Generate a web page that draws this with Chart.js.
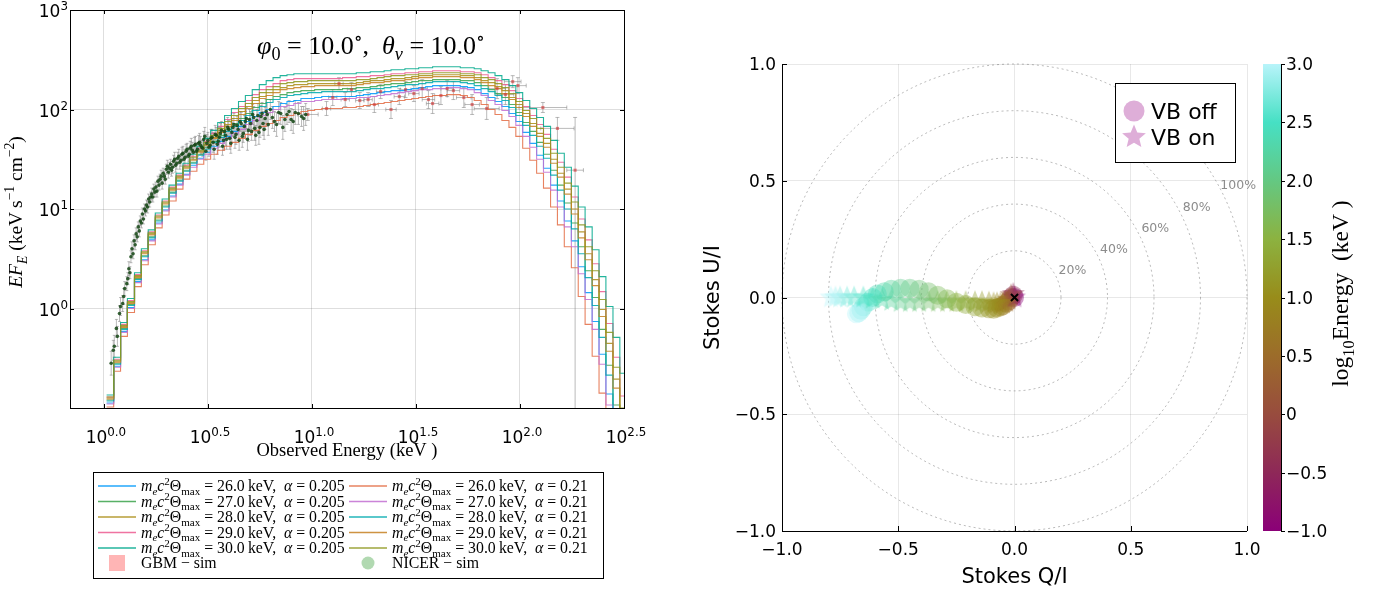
<!DOCTYPE html>
<html>
<head>
<meta charset="utf-8">
<script src="https://cdn.jsdelivr.net/npm/chart.js@4.4.1/dist/chart.umd.min.js"></script>
<style>
html, body { margin: 0; padding: 0; background: #fff; width: 1374px; height: 591px; overflow: hidden; }
#left { position: absolute; left: 0; top: 0; width: 680px; height: 591px; }
#right { position: absolute; left: 680px; top: 0; width: 694px; height: 591px; }
</style>
</head>
<body>
<div id="left"><canvas id="spec"></canvas></div>
<div id="right"><canvas id="pol"></canvas></div>
<script>
// ---- spectrum (left) : log10 values ----
const logEnergyEdges = [
  0.013, 0.047, 0.080, 0.113, 0.147, 0.180, 0.213, 0.247, 0.280, 0.313,
  0.347, 0.380, 0.413, 0.447, 0.480, 0.513, 0.547, 0.580, 0.613, 0.647,
  0.680, 0.713, 0.747, 0.780, 0.813, 0.847, 0.880, 0.913, 0.947, 0.980,
  1.013, 1.047, 1.080, 1.113, 1.147, 1.180, 1.213, 1.247, 1.280, 1.313,
  1.347, 1.380, 1.413, 1.447, 1.480, 1.513, 1.547, 1.580, 1.613, 1.647,
  1.680, 1.713, 1.747, 1.780, 1.813, 1.847, 1.880, 1.913, 1.947, 1.980,
  2.013, 2.047, 2.080, 2.113, 2.147, 2.180, 2.213, 2.247, 2.280, 2.313,
  2.347, 2.380, 2.413, 2.447, 2.480, 2.513
];

const flux_26_0205 = [
  -0.95,-0.58,-0.23,0.01,0.27,0.49,0.69,0.86,0.99,1.13,
  1.25,1.35,1.44,1.51,1.57,1.63,1.68,1.73,1.78,1.83,
  1.88,1.93,1.97,2.00,2.03,2.06,2.08,2.09,2.11,2.11,
  2.12,2.13,2.13,2.13,2.13,2.13,2.14,2.15,2.16,2.17,
  2.18,2.19,2.19,2.20,2.21,2.22,2.23,2.24,2.24,2.24,
  2.24,2.23,2.22,2.20,2.16,2.12,2.08,2.03,1.96,1.88,
  1.77,1.66,1.54,1.41,1.24,1.08,0.88,0.68,0.42,0.16,
  -0.13,-0.46,-0.86,-1.30,-1.82
];
const flux_26_021 = [
  -0.99,-0.63,-0.28,-0.04,0.22,0.44,0.64,0.81,0.94,1.08,
  1.20,1.30,1.38,1.45,1.50,1.55,1.59,1.63,1.67,1.71,
  1.75,1.79,1.83,1.86,1.89,1.92,1.94,1.96,1.98,1.99,
  2.00,2.01,2.01,2.01,2.02,2.02,2.03,2.04,2.05,2.06,
  2.07,2.08,2.09,2.10,2.11,2.12,2.13,2.14,2.14,2.15,
  2.15,2.14,2.12,2.09,2.05,2.00,1.95,1.89,1.82,1.73,
  1.61,1.49,1.36,1.21,1.02,0.84,0.62,0.41,0.12,-0.16,
  -0.48,-0.85,-1.30,-1.80,-2.40
];
const flux_27_0205 = [
  -0.92,-0.55,-0.20,0.04,0.30,0.53,0.72,0.89,1.03,1.17,
  1.29,1.39,1.47,1.55,1.62,1.68,1.74,1.80,1.86,1.91,
  1.96,2.02,2.06,2.10,2.13,2.15,2.17,2.18,2.19,2.19,
  2.20,2.20,2.20,2.20,2.21,2.21,2.22,2.22,2.23,2.24,
  2.25,2.26,2.26,2.27,2.28,2.29,2.29,2.30,2.30,2.30,
  2.30,2.29,2.29,2.27,2.24,2.20,2.16,2.12,2.05,1.97,
  1.87,1.78,1.67,1.55,1.39,1.24,1.06,0.86,0.62,0.38,
  0.11,-0.21,-0.57,-0.97,-1.44
];
const flux_27_021 = [
  -0.96,-0.59,-0.24,0.00,0.26,0.48,0.68,0.85,0.98,1.12,
  1.24,1.34,1.42,1.50,1.55,1.61,1.66,1.71,1.76,1.80,
  1.85,1.89,1.94,1.97,2.00,2.03,2.04,2.06,2.08,2.08,
  2.09,2.10,2.10,2.10,2.11,2.11,2.12,2.12,2.13,2.14,
  2.15,2.16,2.17,2.18,2.19,2.20,2.20,2.21,2.21,2.22,
  2.22,2.21,2.20,2.17,2.14,2.09,2.05,1.99,1.93,1.84,
  1.73,1.62,1.50,1.37,1.19,1.02,0.82,0.62,0.35,0.09,
  -0.21,-0.56,-0.97,-1.42,-1.96
];
const flux_28_0205 = [
  -0.90,-0.53,-0.18,0.06,0.32,0.56,0.75,0.92,1.06,1.20,
  1.32,1.42,1.50,1.58,1.65,1.72,1.79,1.85,1.91,1.98,
  2.03,2.09,2.13,2.17,2.20,2.22,2.24,2.25,2.25,2.26,
  2.26,2.26,2.26,2.26,2.26,2.26,2.27,2.28,2.29,2.29,
  2.30,2.31,2.31,2.32,2.33,2.34,2.34,2.35,2.35,2.35,
  2.35,2.34,2.34,2.32,2.29,2.27,2.23,2.19,2.12,2.05,
  1.96,1.86,1.76,1.66,1.50,1.36,1.20,1.00,0.77,0.55,
  0.29,-0.01,-0.35,-0.71,-1.14
];
const flux_28_021 = [
  -0.93,-0.56,-0.21,0.03,0.29,0.52,0.71,0.88,1.02,1.16,
  1.28,1.38,1.46,1.54,1.60,1.67,1.72,1.78,1.83,1.89,
  1.94,1.99,2.03,2.07,2.10,2.12,2.14,2.15,2.16,2.17,
  2.17,2.18,2.18,2.18,2.18,2.18,2.19,2.20,2.21,2.21,
  2.22,2.23,2.24,2.25,2.25,2.26,2.27,2.28,2.28,2.28,
  2.28,2.27,2.26,2.24,2.21,2.18,2.14,2.09,2.02,1.94,
  1.84,1.74,1.63,1.51,1.34,1.19,1.00,0.80,0.55,0.31,
  0.03,-0.29,-0.67,-1.08,-1.56
];
const flux_29_0205 = [
  -0.89,-0.51,-0.16,0.08,0.34,0.58,0.77,0.94,1.08,1.22,
  1.34,1.44,1.53,1.61,1.68,1.76,1.83,1.90,1.97,2.03,
  2.09,2.15,2.20,2.23,2.26,2.29,2.30,2.31,2.31,2.31,
  2.31,2.31,2.31,2.31,2.32,2.32,2.33,2.33,2.34,2.34,
  2.35,2.36,2.36,2.37,2.37,2.38,2.38,2.39,2.39,2.39,
  2.39,2.38,2.38,2.37,2.35,2.32,2.29,2.25,2.19,2.11,
  2.03,1.94,1.85,1.75,1.60,1.47,1.32,1.12,0.90,0.69,
  0.45,0.17,-0.15,-0.49,-0.88
];
const flux_29_021 = [
  -0.91,-0.54,-0.19,0.05,0.31,0.55,0.74,0.91,1.05,1.19,
  1.31,1.41,1.49,1.57,1.64,1.71,1.77,1.83,1.89,1.95,
  2.01,2.06,2.11,2.14,2.17,2.20,2.21,2.22,2.23,2.23,
  2.24,2.24,2.24,2.24,2.24,2.24,2.25,2.26,2.27,2.27,
  2.28,2.29,2.29,2.30,2.31,2.32,2.32,2.33,2.33,2.33,
  2.33,2.32,2.32,2.30,2.27,2.24,2.21,2.16,2.10,2.02,
  1.93,1.83,1.73,1.62,1.46,1.32,1.15,0.95,0.71,0.49,
  0.23,-0.08,-0.43,-0.80,-1.24
];
const flux_30_0205 = [
  -0.87,-0.49,-0.14,0.10,0.36,0.60,0.79,0.96,1.10,1.24,
  1.36,1.46,1.55,1.63,1.71,1.79,1.87,1.94,2.01,2.08,
  2.14,2.20,2.25,2.29,2.32,2.34,2.35,2.36,2.36,2.36,
  2.36,2.36,2.36,2.36,2.36,2.36,2.37,2.37,2.38,2.38,
  2.39,2.40,2.40,2.41,2.41,2.42,2.42,2.43,2.43,2.43,
  2.43,2.42,2.42,2.41,2.39,2.37,2.34,2.30,2.24,2.17,
  2.09,2.01,1.92,1.83,1.69,1.56,1.42,1.23,1.02,0.82,
  0.59,0.32,0.02,-0.29,-0.65
];
const flux_30_021 = [
  -0.89,-0.52,-0.17,0.07,0.33,0.57,0.76,0.93,1.07,1.21,
  1.33,1.43,1.52,1.59,1.67,1.74,1.81,1.88,1.94,2.01,
  2.06,2.12,2.17,2.20,2.23,2.26,2.27,2.28,2.28,2.29,
  2.29,2.29,2.29,2.29,2.29,2.29,2.30,2.30,2.31,2.32,
  2.33,2.34,2.34,2.35,2.35,2.36,2.36,2.37,2.37,2.37,
  2.37,2.36,2.36,2.35,2.32,2.30,2.26,2.22,2.16,2.08,
  1.99,1.91,1.81,1.71,1.56,1.42,1.26,1.07,0.84,0.62,
  0.38,0.09,-0.24,-0.59,-1.00
];

const seriesTemp = [26, 26, 27, 27, 28, 28, 29, 29, 30, 30];
const seriesAlpha = ["0.205", "0.21", "0.205", "0.21", "0.205", "0.21", "0.205", "0.21", "0.205", "0.21"];
const seriesFlux = [flux_26_0205, flux_26_021, flux_27_0205, flux_27_021, flux_28_0205,
                    flux_28_021, flux_29_0205, flux_29_021, flux_30_0205, flux_30_021];
const seriesColors = ["#009AFA", "#E36F47", "#3EA44E", "#C371D2", "#AC8E18",
                      "#00AAAE", "#ED5E93", "#C68225", "#00A98D", "#8E971E"];

// NICER - sim points (log10 E, log10 EF, half error in dex)
const nicerLogE = [
  0.035,0.045,0.05,0.06,0.065,0.075,0.08,0.09,0.095,
  0.10,0.11,0.115,0.12,0.125,0.13,0.135,0.14,0.145,
  0.15,0.155,0.16,0.165,0.17,0.175,0.18,0.185,0.19,0.195,
  0.20,0.205,0.21,0.215,0.22,0.23,0.235,0.24,
  0.25,0.255,0.26,0.27,0.28,0.285,0.29,
  0.30,0.31,0.32,0.33,0.34,0.35,0.36,0.37,0.38,0.39,
  0.40,0.41,0.42,0.43,0.44,0.45,0.46,0.47,0.48,0.49,
  0.50,0.51,0.52,0.53,0.54,0.55,0.56,0.57,0.58,0.59,
  0.60,0.61,0.62,0.63,0.64,0.65,0.66,0.67,0.68,0.69,
  0.70,0.71,0.72,0.73,0.74,0.75,0.76,0.77,0.78,0.79,
  0.80,
  0.82,0.84,0.86,0.88,0.90,0.92,0.95,0.97,
  0.225,0.245,0.265,0.275,0.295,0.305,0.315,0.325,0.335,0.345,
  0.355,0.365,0.375,0.385,0.395,0.405,0.415,0.425,0.435,0.445,
  0.455,0.465,0.475,0.485,0.495,0.505,0.515,0.525,0.535,0.545,
  0.555,0.565,0.575,0.585,0.595,0.605,0.615,0.625,0.635,0.645,
  0.655,0.665,0.675,0.685,0.695,0.705,0.715,0.725,0.735,0.745,
  0.755,0.765,0.775,0.785,0.81,0.83,0.85,0.87,0.89,0.91,
  0.935,0.96
];
const nicerLogF = [
  -0.55,-0.42,-0.38,-0.20,-0.28,-0.05,0.02,0.05,0.12,
  0.20,0.25,0.30,0.40,0.36,0.52,0.60,0.55,0.68,
  0.64,0.75,0.72,0.82,0.78,0.88,0.86,0.95,0.90,1.00,
  0.98,1.04,1.02,1.10,1.07,1.15,1.12,1.20,
  1.22,1.18,1.28,1.30,1.26,1.36,1.33,
  1.40,1.37,1.45,1.42,1.50,1.46,1.53,1.49,1.56,1.52,
  1.60,1.55,1.63,1.57,1.65,1.60,1.67,1.62,1.70,1.58,
  1.69,1.64,1.72,1.60,1.74,1.68,1.76,1.63,1.78,1.70,
  1.80,1.66,1.82,1.72,1.84,1.69,1.86,1.76,1.88,1.70,
  1.90,1.78,1.92,1.74,1.94,1.82,1.96,1.80,1.98,1.85,
  2.00,
  1.88,1.97,1.82,1.95,1.90,1.97,1.93,1.95,
  1.12,1.17,1.24,1.33,1.30,1.43,1.41,1.39,1.48,1.44,
  1.51,1.47,1.55,1.50,1.58,1.53,1.61,1.59,1.64,1.58,
  1.66,1.64,1.61,1.73,1.66,1.62,1.71,1.67,1.75,1.65,
  1.72,1.79,1.69,1.74,1.82,1.71,1.77,1.85,1.75,1.80,
  1.88,1.73,1.83,1.91,1.79,1.86,1.95,1.81,1.89,1.77,
  1.93,1.86,1.91,1.95,1.92,1.85,1.96,1.90,1.98,1.88,
  1.96,1.91
];
const nicerErr = [
  0.12,0.10,0.11,0.09,0.10,0.08,0.09,0.08,0.08,
  0.07,0.07,0.06,0.07,0.06,0.06,0.07,0.05,0.06,
  0.05,0.06,0.05,0.05,0.06,0.05,0.05,0.06,0.05,0.05,
  0.05,0.05,0.06,0.05,0.05,0.06,0.05,0.05,
  0.05,0.06,0.05,0.05,0.06,0.05,0.05,
  0.05,0.06,0.05,0.06,0.07,0.06,0.07,0.06,0.07,0.08,
  0.06,0.07,0.08,0.07,0.08,0.07,0.09,0.07,0.08,0.09,
  0.08,0.09,0.08,0.10,0.08,0.09,0.10,0.09,0.08,0.10,
  0.09,0.10,0.09,0.11,0.09,0.10,0.11,0.09,0.10,0.11,
  0.10,0.09,0.11,0.10,0.12,0.10,0.11,0.10,0.12,0.11,
  0.10,
  0.10,0.11,0.12,0.10,0.11,0.12,0.10,0.11,
  0.05,0.05,0.05,0.06,0.05,0.06,0.06,0.06,0.06,0.07,
  0.06,0.07,0.07,0.07,0.07,0.08,0.07,0.08,0.08,0.08,
  0.08,0.09,0.08,0.09,0.09,0.09,0.09,0.10,0.09,0.10,
  0.10,0.09,0.10,0.10,0.10,0.11,0.10,0.11,0.10,0.11,
  0.10,0.11,0.11,0.11,0.11,0.12,0.10,0.12,0.11,0.12,
  0.11,0.12,0.11,0.12,0.11,0.12,0.11,0.12,0.11,0.12,
  0.11,0.12
];

// GBM - sim points
const gbmLogE = [0.98,1.07,1.10,1.13,1.16,1.19,1.23,1.27,1.30,1.33,1.38,1.42,1.45,1.49,1.53,
                 1.56,1.58,1.62,1.65,1.68,1.73,1.77,1.84,1.89,1.93,1.965,1.99,2.11,2.18,2.265];
const gbmLogF = [1.95,2.01,2.12,2.26,2.10,2.20,2.09,2.10,2.05,2.18,2.00,2.13,2.20,2.16,2.21,
                 2.10,2.06,2.14,2.21,2.19,2.12,2.05,2.01,2.21,2.15,2.28,2.24,2.02,1.81,1.39];
const gbmErrLo = [0.06,0.07,0.08,0.06,0.07,0.07,0.08,0.07,0.08,0.07,0.09,0.08,0.08,0.08,0.09,
                  0.09,0.10,0.09,0.08,0.09,0.10,0.10,0.11,0.10,0.10,0.06,0.08,0.05,0.12,2.60];
const gbmErrHi = [0.06,0.07,0.08,0.06,0.07,0.07,0.08,0.07,0.08,0.07,0.09,0.08,0.08,0.08,0.09,
                  0.09,0.10,0.09,0.08,0.09,0.10,0.10,0.11,0.10,0.10,0.06,0.08,0.05,0.11,0.53];
const gbmHalfWidth = [0.05,0.02,0.02,0.02,0.02,0.02,0.02,0.02,0.02,0.02,0.025,0.025,0.025,0.025,0.025,
                      0.03,0.03,0.03,0.03,0.03,0.035,0.035,0.06,0.04,0.04,0.04,0.04,0.115,0.08,0.04];

const specXTicks = [0, 0.5, 1, 1.5, 2, 2.5];
const specXTickLabels = ["0.0", "0.5", "1.0", "1.5", "2.0", "2.5"];
const specYTicks = [0, 1, 2, 3];
const specYTickLabels = ["0", "1", "2", "3"];

// ---- polarisation (right) ----
const polLogE = [
  -1.0,-0.5,0.0,0.3,0.5,0.7,0.8,0.9,
  1.0,1.1,1.2,1.3,1.4,1.5,1.6,1.7,1.8,1.9,
  2.0,2.1,2.2,2.3,2.4,2.5,2.6,2.7,2.8,2.9,
  3.0
];
const offQ = [
  0.00,-0.005,-0.015,-0.025,-0.035,-0.05,-0.06,-0.075,
  -0.09,-0.11,-0.14,-0.17,-0.21,-0.25,-0.29,-0.33,-0.37,-0.41,
  -0.45,-0.49,-0.53,-0.56,-0.59,-0.61,-0.63,-0.65,-0.66,-0.67,
  -0.68
];
const offU = [
  0.00,0.01,0.0,-0.015,-0.025,-0.035,-0.04,-0.045,
  -0.05,-0.048,-0.045,-0.04,-0.03,-0.02,-0.005,0.01,0.025,0.035,
  0.04,0.04,0.035,0.025,0.015,0.0,-0.02,-0.04,-0.055,-0.065,
  -0.07
];
const onQ = [
  0.00,-0.005,-0.015,-0.025,-0.035,-0.05,-0.06,-0.075,
  -0.09,-0.11,-0.14,-0.17,-0.21,-0.25,-0.29,-0.33,-0.37,-0.41,
  -0.45,-0.49,-0.53,-0.57,-0.61,-0.65,-0.69,-0.72,-0.75,-0.77,
  -0.79
];
const onU = [
  0.00,0.015,0.01,-0.01,-0.02,-0.025,-0.025,-0.025,
  -0.025,-0.022,-0.02,-0.02,-0.02,-0.02,-0.02,-0.02,-0.02,-0.02,
  -0.02,-0.02,-0.015,-0.01,-0.005,0.0,0.0,0.0,0.0,0.0,
  0.0
];
const polTicks = [-1, -0.5, 0, 0.5, 1];
const polTickLabels = ["\u22121.0", "\u22120.5", "0.0", "0.5", "1.0"];
const ringRadii = [0.2, 0.4, 0.6, 0.8, 1.0];
const ringLabels = ["20%", "40%", "60%", "80%", "100%"];
const cbarTicks = [3.0, 2.5, 2.0, 1.5, 1.0, 0.5, 0, -0.5, -1.0];
const cbarTickLabels = ["3.0", "2.5", "2.0", "1.5", "1.0", "0.5", "0", "\u22120.5", "\u22121.0"];

const cmapStops = [
  [-1.0, [139, 0, 120]], [-0.5, [142, 40, 88]], [0.0, [152, 76, 62]], [0.5, [156, 108, 42]],
  [1.0, [152, 140, 26]], [1.5, [140, 178, 64]], [2.0, [100, 200, 130]], [2.5, [70, 224, 196]],
  [3.0, [184, 244, 250]]
];

const SANS = '"DejaVu Sans", sans-serif';
const SERIF = '"Liberation Serif", "DejaVu Serif", serif';

function cmap(t, a) {
  if (t <= cmapStops[0][0]) t = cmapStops[0][0];
  for (let i = 1; i < cmapStops.length; i++) {
    const [t1, c1] = cmapStops[i];
    const [t0, c0] = cmapStops[i - 1];
    if (t <= t1) {
      const f = (t - t0) / (t1 - t0);
      const c = c0.map((v, j) => Math.round(v + f * (c1[j] - v)));
      return `rgba(${c[0]},${c[1]},${c[2]},${a})`;
    }
  }
  const c = cmapStops[cmapStops.length - 1][1];
  return `rgba(${c[0]},${c[1]},${c[2]},${a})`;
}

// rich text: segments [text, flags]; flags: i italic, b subscript, p superscript
function drawRich(ctx, segs, x, y, size, family, align) {
  const parts = segs.map(([t, f = ""]) => {
    const small = f.includes("b") || f.includes("p");
    const fs = small ? size * 0.7 : size;
    const font = (f.includes("i") ? "italic " : "") + fs + "px " + family;
    ctx.font = font;
    const dy = f.includes("b") ? size * 0.24 : f.includes("p") ? -size * 0.4 : 0;
    return { t, font, dy, w: ctx.measureText(t).width };
  });
  const total = parts.reduce((s, p) => s + p.w, 0);
  let cx = align === "center" ? x - total / 2 : align === "right" ? x - total : x;
  ctx.textAlign = "left";
  for (const p of parts) {
    ctx.font = p.font;
    ctx.fillText(p.t, cx, y + p.dy);
    cx += p.w;
  }
}

function seriesLabel(i) {
  return [["m", "i"], ["e", "ib"], ["c", "i"], ["2", "p"], ["\u0398"], ["max", "b"],
          [" = " + seriesTemp[i].toFixed(1) + "\u2009keV,  "], ["\u03b1", "i"], [" = " + seriesAlpha[i]]];
}

function starPath(ctx, cx, cy, r) {
  ctx.beginPath();
  for (let i = 0; i < 10; i++) {
    const rr = i % 2 ? r * 0.45 : r;
    const a = -Math.PI / 2 + i * Math.PI / 5;
    ctx.lineTo(cx + rr * Math.cos(a), cy + rr * Math.sin(a));
  }
  ctx.closePath();
}

function starImage(color, r) {
  const c = document.createElement("canvas");
  c.width = c.height = 2 * r + 2;
  const g = c.getContext("2d");
  starPath(g, r + 1, r + 1, r);
  g.fillStyle = color;
  g.fill();
  return c;
}

Chart.defaults.animation = false;
Chart.defaults.font.family = SANS;

// ================= left chart =================
const specDatasets = [];
specDatasets.push({
  type: "scatter", label: "NICER - sim", order: 0,
  data: nicerLogE.map((e, i) => ({ x: e, y: nicerLogF[i] })),
  pointRadius: 1.8, pointBackgroundColor: "rgba(20,70,20,0.85)", pointBorderWidth: 0,
});
specDatasets.push({
  type: "scatter", label: "GBM - sim", order: 0,
  data: gbmLogE.map((e, i) => ({ x: e, y: gbmLogF[i] })),
  pointStyle: "rect", pointRadius: 2.2, pointBackgroundColor: "rgba(214,50,50,0.6)", pointBorderWidth: 0,
});
seriesFlux.forEach((vals, s) => {
  specDatasets.push({
    type: "line", label: "series " + s, order: 20 - s,
    data: logEnergyEdges.map((e, i) => ({ x: e, y: vals[Math.min(i, vals.length - 1)] })),
    stepped: "before", borderColor: seriesColors[s] + "DD", borderWidth: 1.1,
    pointRadius: 0, fill: false,
  });
});

const specPlugin = {
  id: "specDecor",
  beforeDatasetsDraw(chart) {
    const { ctx, chartArea: a, scales: { x, y } } = chart;
    ctx.save();
    ctx.beginPath();
    ctx.rect(a.left, a.top, a.right - a.left, a.bottom - a.top);
    ctx.clip();
    ctx.strokeStyle = "rgba(120,120,120,0.5)";
    ctx.lineWidth = 1;
    ctx.beginPath();
    nicerLogE.forEach((e, i) => {
      const px = x.getPixelForValue(e);
      const y0 = y.getPixelForValue(nicerLogF[i] - nicerErr[i]);
      const y1 = y.getPixelForValue(nicerLogF[i] + nicerErr[i]);
      ctx.moveTo(px, y0); ctx.lineTo(px, y1);
      ctx.moveTo(px - 1.5, y0); ctx.lineTo(px + 1.5, y0);
      ctx.moveTo(px - 1.5, y1); ctx.lineTo(px + 1.5, y1);
    });
    ctx.stroke();
    ctx.strokeStyle = "rgba(120,120,120,0.5)";
    ctx.beginPath();
    gbmLogE.forEach((e, i) => {
      const px = x.getPixelForValue(e);
      const py = y.getPixelForValue(gbmLogF[i]);
      const y0 = y.getPixelForValue(gbmLogF[i] - gbmErrLo[i]);
      const y1 = y.getPixelForValue(gbmLogF[i] + gbmErrHi[i]);
      const x0 = x.getPixelForValue(e - gbmHalfWidth[i]);
      const x1 = x.getPixelForValue(e + gbmHalfWidth[i]);
      ctx.moveTo(px, y0); ctx.lineTo(px, y1);
      ctx.moveTo(px - 2, y0); ctx.lineTo(px + 2, y0);
      ctx.moveTo(px - 2, y1); ctx.lineTo(px + 2, y1);
      ctx.moveTo(x0, py); ctx.lineTo(x1, py);
      ctx.moveTo(x0, py - 2); ctx.lineTo(x0, py + 2);
      ctx.moveTo(x1, py - 2); ctx.lineTo(x1, py + 2);
    });
    ctx.stroke();
    ctx.restore();
  },
  afterDraw(chart) {
    const { ctx, chartArea: a, scales: { x, y } } = chart;
    ctx.save();
    ctx.fillStyle = "#000";
    ctx.strokeStyle = "#000";
    ctx.lineWidth = 1;
    ctx.strokeRect(a.left + 0.5, a.top + 0.5, a.right - a.left, a.bottom - a.top);
    ctx.beginPath();
    specXTicks.forEach(v => {
      const px = Math.round(x.getPixelForValue(v)) + 0.5;
      ctx.moveTo(px, a.bottom); ctx.lineTo(px, a.bottom - 4);
      ctx.moveTo(px, a.top); ctx.lineTo(px, a.top + 4);
    });
    specYTicks.forEach(v => {
      const py = Math.round(y.getPixelForValue(v)) + 0.5;
      ctx.moveTo(a.left, py); ctx.lineTo(a.left + 4, py);
      ctx.moveTo(a.right, py); ctx.lineTo(a.right - 4, py);
    });
    ctx.stroke();
    ctx.textBaseline = "alphabetic";
    specXTicks.forEach((v, i) => {
      drawRich(ctx, [["10"], [specXTickLabels[i], "p"]], x.getPixelForValue(v) + 2, a.bottom + 35, 17, SANS, "center");
    });
    specYTicks.forEach((v, i) => {
      drawRich(ctx, [["10"], [specYTickLabels[i], "p"]], a.left - 2, y.getPixelForValue(v) + 7, 17, SANS, "right");
    });
    // title
    drawRich(ctx, [["\u03c6", "i"], ["0", "b"], [" = 10.0"], ["\u2218", "p"], [",  "], ["\u03b8", "i"], ["v", "ib"], [" = 10.0"], ["\u2218", "p"]],
      371, 54, 26, SERIF, "center");
    // axis labels
    drawRich(ctx, [["Observed Energy (keV )"]], 347, 456, 18.5, SERIF, "center");
    ctx.save();
    ctx.translate(22, 212);
    ctx.rotate(-Math.PI / 2);
    drawRich(ctx, [["EF", "i"], ["E", "ib"], [" (keV\u2009s"], ["\u22121", "p"], [" cm"], ["\u22122", "p"], [")"]], 0, 0, 19.5, SERIF, "center");
    ctx.restore();
    // legend box
    const bx = 93, by = 472, bw = 510, bh = 106;
    ctx.fillStyle = "#fff";
    ctx.fillRect(bx, by, bw, bh);
    ctx.strokeRect(bx + 0.5, by + 0.5, bw, bh);
    const rowY = [486, 501.5, 517, 532.5, 548];
    const colX = [98, 349];
    seriesFlux.forEach((_, s) => {
      const col = s % 2, row = Math.floor(s / 2);
      const lx = colX[col], ly = rowY[row];
      ctx.strokeStyle = seriesColors[s] + "DD";
      ctx.lineWidth = 1.6;
      ctx.beginPath(); ctx.moveTo(lx, ly); ctx.lineTo(lx + 38, ly); ctx.stroke();
      ctx.fillStyle = "#000";
      drawRich(ctx, seriesLabel(s), lx + 43, ly + 5, 15.8, SERIF, "left");
    });
    ctx.fillStyle = "rgba(255,120,120,0.55)";
    ctx.fillRect(109, 555, 16, 16);
    ctx.fillStyle = "rgba(60,160,60,0.4)";
    ctx.beginPath(); ctx.arc(368, 563, 6.5, 0, Math.PI * 2); ctx.fill();
    ctx.fillStyle = "#000";
    drawRich(ctx, [["GBM \u2212 sim"]], 141, 568, 15.8, SERIF, "left");
    drawRich(ctx, [["NICER \u2212 sim"]], 392, 568, 15.8, SERIF, "left");
    ctx.restore();
  },
};

new Chart(document.getElementById("spec"), {
  data: { datasets: specDatasets },
  options: {
    responsive: true, maintainAspectRatio: false, devicePixelRatio: 1,
    layout: { padding: { left: 70, top: 10, right: 56, bottom: 183 } },
    plugins: { legend: { display: false }, tooltip: { enabled: false } },
    scales: {
      x: {
        type: "linear", min: -0.163, max: 2.5,
        afterBuildTicks: s => { s.ticks = specXTicks.map(v => ({ value: v })); },
        afterFit: s => { s.height = 0; },
        ticks: { display: false },
        grid: { color: "rgba(0,0,0,0.13)", drawTicks: false },
        border: { display: false },
      },
      y: {
        type: "linear", min: -1, max: 3,
        afterBuildTicks: s => { s.ticks = specYTicks.map(v => ({ value: v })); },
        afterFit: s => { s.width = 0; },
        ticks: { display: false },
        grid: { color: "rgba(0,0,0,0.13)", drawTicks: false },
        border: { display: false },
      },
    },
  },
  plugins: [specPlugin],
});

// ================= right chart =================
const polPlugin = {
  id: "polDecor",
  beforeDatasetsDraw(chart) {
    const { ctx, scales: { x, y } } = chart;
    const cx = x.getPixelForValue(0), cy = y.getPixelForValue(0);
    ctx.save();
    ctx.strokeStyle = "rgba(0,0,0,0.28)";
    ctx.lineWidth = 1;
    ctx.setLineDash([2, 3]);
    ringRadii.forEach(r => {
      const rx = x.getPixelForValue(r) - cx, ry = cy - y.getPixelForValue(r);
      ctx.beginPath();
      ctx.ellipse(cx, cy, rx, ry, 0, 0, Math.PI * 2);
      ctx.stroke();
    });
    ctx.setLineDash([]);
    ctx.fillStyle = "#8c8c8c";
    ctx.font = "12.5px " + SANS;
    ctx.textAlign = "center";
    ctx.textBaseline = "middle";
    const ang = 27 * Math.PI / 180;
    ringRadii.forEach((r, i) => {
      const rr = r + 0.07;
      ctx.fillText(ringLabels[i], x.getPixelForValue(rr * Math.cos(ang)) + 2, y.getPixelForValue(rr * Math.sin(ang)) + 2);
    });
    ctx.restore();
  },
  afterDraw(chart) {
    const { ctx, chartArea: a, scales: { x, y } } = chart;
    ctx.save();
    ctx.strokeStyle = "#000";
    ctx.fillStyle = "#000";
    ctx.lineWidth = 1;
    ctx.beginPath();
    ctx.moveTo(a.left + 0.5, a.top); ctx.lineTo(a.left + 0.5, a.bottom + 0.5); ctx.lineTo(a.right, a.bottom + 0.5);
    polTicks.forEach(v => {
      const px = Math.round(x.getPixelForValue(v)) + 0.5;
      ctx.moveTo(px, a.bottom); ctx.lineTo(px, a.bottom - 5);
      const py = Math.round(y.getPixelForValue(v)) + 0.5;
      ctx.moveTo(a.left, py); ctx.lineTo(a.left + 5, py);
    });
    ctx.stroke();
    ctx.font = "17px " + SANS;
    ctx.textBaseline = "alphabetic";
    polTicks.forEach((v, i) => {
      ctx.textAlign = "center";
      ctx.fillText(polTickLabels[i], x.getPixelForValue(v), a.bottom + 24);
      ctx.textAlign = "right";
      ctx.fillText(polTickLabels[i], a.left - 6, y.getPixelForValue(v) + 6);
    });
    ctx.font = "21px " + SANS;
    ctx.textAlign = "center";
    ctx.fillText("Stokes Q/I", x.getPixelForValue(0), a.bottom + 52);
    ctx.save();
    ctx.translate(a.left - 63, y.getPixelForValue(0));
    ctx.rotate(-Math.PI / 2);
    ctx.fillText("Stokes U/I", 0, 0);
    ctx.restore();

    // legend
    const lx = 435, ly = 83;
    ctx.fillStyle = "#fff";
    ctx.fillRect(lx, ly, 120, 79);
    ctx.strokeStyle = "#000";
    ctx.strokeRect(lx + 0.5, ly + 0.5, 120, 79);
    ctx.fillStyle = "rgba(200,120,190,0.6)";
    ctx.beginPath(); ctx.arc(lx + 19, ly + 28, 10.5, 0, Math.PI * 2); ctx.fill();
    starPath(ctx, lx + 19, ly + 54, 12.5); ctx.fill();
    ctx.fillStyle = "#000";
    ctx.font = "22px " + SANS;
    ctx.textAlign = "left";
    ctx.fillText("VB off", lx + 36, ly + 36);
    ctx.fillText("VB on", lx + 36, ly + 62);

    // colour bar
    const cbL = 583, cbR = 601;
    const g = ctx.createLinearGradient(0, a.bottom, 0, a.top);
    cmapStops.forEach(([t]) => g.addColorStop((t + 1) / 4, cmap(t, 1)));
    ctx.fillStyle = g;
    ctx.fillRect(cbL, a.top, cbR - cbL, a.bottom - a.top);
    ctx.strokeStyle = "#000";
    ctx.beginPath();
    ctx.moveTo(cbR + 0.5, a.top); ctx.lineTo(cbR + 0.5, a.bottom);
    cbarTicks.forEach(t => {
      const py = Math.round(a.bottom - (t + 1) / 4 * (a.bottom - a.top)) + 0.5;
      ctx.moveTo(cbR, py); ctx.lineTo(cbR + 4, py);
    });
    ctx.stroke();
    ctx.fillStyle = "#000";
    ctx.font = "17px " + SANS;
    ctx.textAlign = "left";
    cbarTicks.forEach((t, i) => {
      const py = a.bottom - (t + 1) / 4 * (a.bottom - a.top);
      ctx.fillText(cbarTickLabels[i], cbR + 5, py + 6);
    });
    ctx.save();
    ctx.translate(668, y.getPixelForValue(0) - 4);
    ctx.rotate(-Math.PI / 2);
    drawRich(ctx, [["log"], ["10", "b"], ["Energy"], ["  (keV )"]], 0, 0, 23.5, SERIF, "center");
    ctx.restore();
    ctx.restore();
  },
};

const offColors = polLogE.map(t => cmap(t, 0.4));
const onStars = polLogE.map(t => starImage(cmap(t, 0.4), 12));

new Chart(document.getElementById("pol"), {
  type: "scatter",
  data: {
    datasets: [
      {
        label: "origin", order: 0,
        data: [{ x: 0, y: 0 }],
        pointStyle: "crossRot", pointRadius: 5, pointBorderColor: "#000", pointBorderWidth: 2,
      },
      {
        label: "VB on", order: 1,
        data: onQ.map((q, i) => ({ x: q, y: onU[i] })),
        pointStyle: onStars, pointRadius: 12,
      },
      {
        label: "VB off", order: 2,
        data: offQ.map((q, i) => ({ x: q, y: offU[i] })),
        pointStyle: "circle", pointRadius: 9.5, pointBackgroundColor: offColors, pointBorderWidth: 0,
      },
    ],
  },
  options: {
    responsive: true, maintainAspectRatio: false, devicePixelRatio: 1,
    layout: { padding: { left: 102, top: 64, right: 127, bottom: 60 } },
    plugins: { legend: { display: false }, tooltip: { enabled: false } },
    scales: {
      x: {
        type: "linear", min: -1, max: 1,
        afterBuildTicks: s => { s.ticks = polTicks.map(v => ({ value: v })); },
        afterFit: s => { s.height = 0; },
        ticks: { display: false },
        grid: { color: "rgba(0,0,0,0.09)", drawTicks: false },
        border: { display: false },
      },
      y: {
        type: "linear", min: -1, max: 1,
        afterBuildTicks: s => { s.ticks = polTicks.map(v => ({ value: v })); },
        afterFit: s => { s.width = 0; },
        ticks: { display: false },
        grid: { color: "rgba(0,0,0,0.09)", drawTicks: false },
        border: { display: false },
      },
    },
  },
  plugins: [polPlugin],
});
</script>
</body>
</html>
